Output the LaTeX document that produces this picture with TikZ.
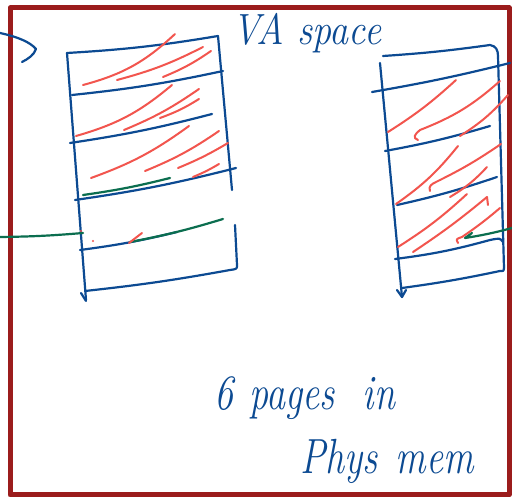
\documentclass[tikz,border=0pt]{standalone}
\usetikzlibrary{arrows.meta}
\definecolor{ink}{HTML}{0C4A92}
\definecolor{hatch}{HTML}{F2554E}
\definecolor{grn}{HTML}{0B6E4F}
\definecolor{framec}{HTML}{9B1C1C}
\begin{document}
\begin{tikzpicture}[x=1pt,y=-1pt, line cap=round, line join=round,
 pen/.style={draw=ink, line width=2.2pt},
 hat/.style={draw=hatch, line width=2pt},
 gpen/.style={draw=grn, line width=2.2pt},
 hand/.style={text=ink, font=\fontsize{38}{40}\selectfont\itshape, inner sep=0pt, anchor=base west}]
\useasboundingbox (0,0) rectangle (512,502);
\fill[white] (0,0) rectangle (512,502);
\draw[framec, line width=5pt] (10,8) rectangle (509,495);

% incoming arrow top-left
\draw[pen] (0,33) .. controls (18,37) and (30,42) .. (36,49) .. controls (34,55) and (28,59) .. (22,62);

% left box
\draw[pen] (67,53) to[bend right=3] (218,36) -- (232,190);
\draw[pen] (235,225) -- (237,265) .. controls (237,269) .. (230,270) to[bend left=2] (85,291);
\draw[pen] (67,53) -- (86,300);
\draw[pen] (81,293) -- (86,301);
\draw[pen] (72,95) to[bend right=3] (223,71);
\draw[pen] (70,143) to[bend right=3] (212,114);
\draw[pen] (75,200) to[bend right=3] (236,168);
\draw[pen] (80,250) to[bend right=3] (177,232);
\draw[gpen] (83,195) to[bend right=3] (170,178);
\draw[gpen] (130,242) to[bend right=3] (223,219);
\draw[gpen] (0,237) to[bend right=2] (83,233);

\draw[hat] (83,85) to[bend right=14] (175,34);
\draw[hat] (117,80) to[bend right=6] (203,47);
\draw[hat] (163,77) to[bend right=6] (211,51);
\draw[hat] (76,136) to[bend right=12] (172,85);
\draw[hat] (124,130) to[bend right=6] (199,89);
\draw[hat] (160,118) to[bend right=6] (199,99);
\draw[hat] (91,178) to[bend right=8] (189,126);
\draw[hat] (145,171) to[bend right=6] (219,131);
\draw[hat] (178,168) to[bend right=4] (228,143);
\draw[hat] (193,177) to[bend right=4] (219,164);
\draw[hat] (129,243) -- (142,233);
\fill[hatch] (81,231) circle (1.2pt) (93,241) circle (1.2pt);

% right box
\draw[pen] (383,56) to[bend right=2] (490,45) .. controls (496,46) and (498,50) .. (498,56) -- (504,268) .. controls (504,271) .. (500,271) to[bend left=2] (402,288);
\draw[pen] (380,63) -- (402,297);
\draw[pen] (397,290) -- (402,297) -- (406,290);
\draw[pen] (372,92) to[bend right=2] (510,63);
\draw[pen] (385,151) to[bend right=3] (490,126);
\draw[pen] (397,205) to[bend right=3] (497,177);
\draw[pen] (395,259) to[bend right=4] (490,240) .. controls (500,238) .. (503,242);
\draw[gpen] (512,228) to[bend left=3] (465,238) -- (472,233);

\draw[hat] (388,132) to[bend right=5] (456,80);
\draw[hat] (418,140) .. controls (412,138) and (415,134) .. (420,130) to[bend right=10] (500,81);
\draw[hat] (460,136) to[bend right=8] (508,95);
\draw[hat] (396,204) to[bend right=8] (458,146);
\draw[hat] (430,191) .. controls (428,186) and (432,184) .. (436,182) to[bend right=4] (501,144);
\draw[hat] (450,197) to[bend right=8] (487,167);
\draw[hat] (398,247) to[bend right=5] (467,194);
\draw[hat] (413,252) to[bend right=3] (487,197) -- (488,205);
\draw[hat] (458,243) .. controls (456,239) .. (462,237) to[bend right=3] (500,208);

% texts
\node[hand] (va) at (232,45) {\scalebox{1}[1.15]{VA\hspace{14pt}space}};
\node[hand] (l1) at (214,410) {\scalebox{1}[1.3]{6\hspace{16pt}pages\hspace{28pt}in}};
\node[hand] (l2) at (300,474) {\scalebox{1}[1.3]{Phys\hspace{18pt}mem}};
\end{tikzpicture}
\end{document}
